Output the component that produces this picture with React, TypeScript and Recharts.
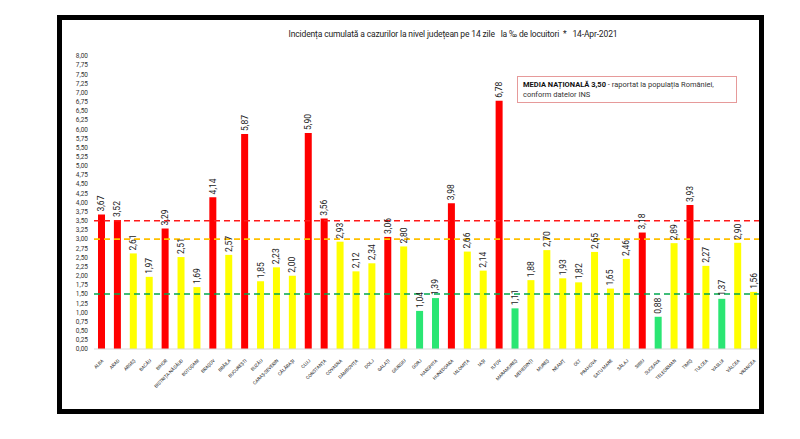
import { BarChart, Bar, XAxis, YAxis, Cell, ReferenceLine, LabelList } from "recharts";

const counties = [
  "ALBA", "ARAD", "ARGEȘ", "BACĂU", "BIHOR", "BISTRIȚA-NĂSĂUD", "BOTOȘANI",
  "BRAȘOV", "BRĂILA", "BUCUREȘTI", "BUZĂU", "CARAȘ-SEVERIN", "CĂLĂRAȘI", "CLUJ",
  "CONSTANȚA", "COVASNA", "DÂMBOVIȚA", "DOLJ", "GALAȚI", "GIURGIU", "GORJ",
  "HARGHITA", "HUNEDOARA", "IALOMIȚA", "IAȘI", "ILFOV", "MARAMUREȘ", "MEHEDINȚI",
  "MUREȘ", "NEAMȚ", "OLT", "PRAHOVA", "SATU MARE", "SĂLAJ", "SIBIU", "SUCEAVA",
  "TELEORMAN", "TIMIȘ", "TULCEA", "VASLUI", "VÂLCEA", "VRANCEA",
];

const incidence = [
  3.67, 3.52, 2.61, 1.97, 3.29, 2.51, 1.69,
  4.14, 2.57, 5.87, 1.85, 2.23, 2.0, 5.9,
  3.56, 2.93, 2.12, 2.34, 3.06, 2.8, 1.04,
  1.39, 3.98, 2.66, 2.14, 6.78, 1.11, 1.88,
  2.7, 1.93, 1.82, 2.65, 1.65, 2.46, 3.18, 0.88,
  2.89, 3.93, 2.27, 1.37, 2.9, 1.56,
];

const yTicks = [
  0, 0.25, 0.5, 0.75, 1, 1.25, 1.5, 1.75, 2, 2.25, 2.5, 2.75, 3, 3.25, 3.5, 3.75,
  4, 4.25, 4.5, 4.75, 5, 5.25, 5.5, 5.75, 6, 6.25, 6.5, 6.75, 7, 7.25, 7.5, 7.75, 8,
];

const nationalAverage = 3.5;
const highThreshold = 3.0;
const lowThreshold = 1.5;

const data = counties.map((name, i) => ({ name, value: incidence[i] }));

const fmt = (v: number) => v.toFixed(2).replace(".", ",");

const barColor = (v: number) => {
  if (v >= highThreshold) return "#FF0000";
  if (v >= lowThreshold) return "#FFFF00";
  return "#2BE673";
};

const FONT = "Roboto, 'Open Sans', sans-serif";

const XTick = (props: any) => {
  const { x, y, payload } = props;
  return (
    <text
      x={x + 2}
      y={y + 4}
      transform={`rotate(-45 ${x + 2} ${y + 4})`}
      textAnchor="end"
      fontSize={4.6}
      fontFamily={FONT}
      fill="#222"
    >
      {payload.value}
    </text>
  );
};

const ValueLabel = (props: any) => {
  const { x, y, width, value } = props;
  const cx = x + width / 2 + 3;
  const cy = y - 3;
  return (
    <text
      x={cx}
      y={cy}
      transform={`rotate(-90 ${cx} ${cy})`}
      textAnchor="start"
      fontSize={8.5}
      fontFamily={FONT}
      fill="#222"
    >
      {fmt(value)}
    </text>
  );
};

export default function App() {
  return (
    <div
      style={{
        position: "absolute",
        left: 0,
        top: 0,
        width: 800,
        height: 439,
        background: "#fff",
        fontFamily: FONT,
      }}
    >
      <BarChart
        width={800}
        height={439}
        data={data}
        margin={{ top: 56, right: 38, bottom: 0, left: 64 }}
      >
        <XAxis
          dataKey="name"
          interval={0}
          tickLine={false}
          axisLine={{ stroke: "#d9d9d9" }}
          tick={<XTick />}
          height={90}
        />
        <YAxis
          width={30}
          domain={[0, 8]}
          ticks={yTicks}
          interval={0}
          tickFormatter={fmt}
          tickLine={false}
          axisLine={false}
          tickSize={0}
          tickMargin={6}
          tick={{ fontSize: 6.5, fill: "#333", fontFamily: FONT }}
        />
        <ReferenceLine y={nationalAverage} stroke="#FF1A1A" strokeWidth={1.6} strokeDasharray="6 4" />
        <ReferenceLine y={highThreshold} stroke="#FFC000" strokeWidth={1.6} strokeDasharray="6 4" />
        <ReferenceLine y={lowThreshold} stroke="#00A84F" strokeWidth={1.6} strokeDasharray="6 4" />
        <Bar dataKey="value" barSize={7} isAnimationActive={false}>
          {data.map((d) => (
            <Cell key={d.name} fill={barColor(d.value)} />
          ))}
          <LabelList dataKey="value" content={<ValueLabel />} />
        </Bar>
      </BarChart>

      <div
        style={{
          position: "absolute",
          left: 253,
          top: 29,
          width: 400,
          textAlign: "center",
          fontSize: 8.5,
          letterSpacing: -0.15,
          color: "#222",
          whiteSpace: "nowrap",
        }}
      >
        Incidența cumulată a cazurilor la nivel județean pe 14 zile&nbsp;&nbsp; la ‰ de locuitori&nbsp; *&nbsp;&nbsp; 14-Apr-2021
      </div>

      <div
        style={{
          position: "absolute",
          left: 517,
          top: 76,
          width: 220,
          height: 27,
          boxSizing: "border-box",
          border: "1px solid #E69A9A",
          background: "#fff",
          padding: "3px 0 0 5px",
          fontSize: 7.5,
          lineHeight: "10px",
          color: "#333",
        }}
      >
        <span style={{ fontWeight: "bold", color: "#111" }}>MEDIA NAȚIONALĂ 3,50</span>
        <span> - raportat la populația României,</span>
        <br />
        <span>conform datelor INS</span>
      </div>

      <div
        style={{
          position: "absolute",
          left: 57,
          top: 15,
          width: 707,
          height: 399,
          boxSizing: "border-box",
          border: "5px solid #000",
          pointerEvents: "none",
        }}
      />
    </div>
  );
}
